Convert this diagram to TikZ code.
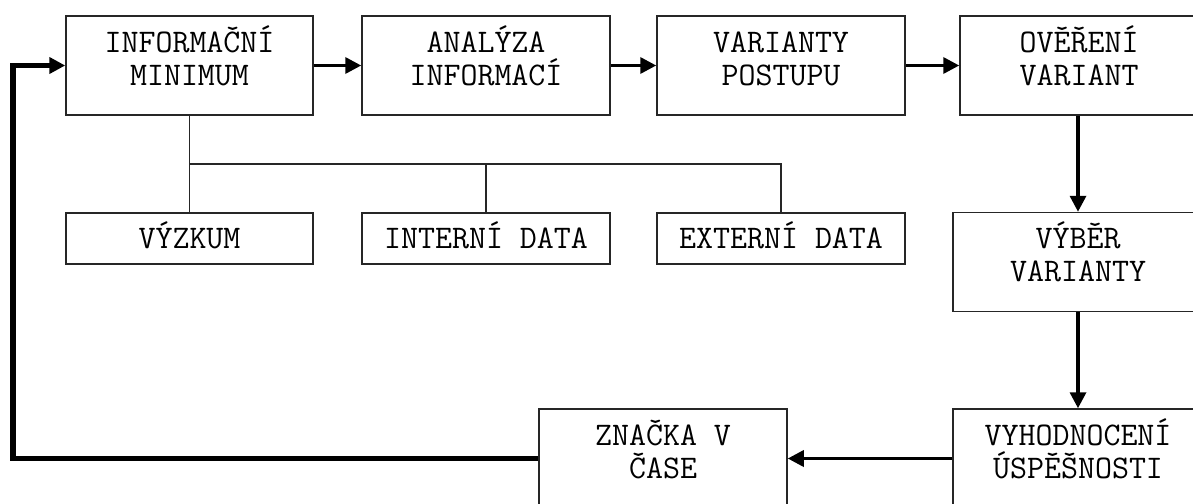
\documentclass[tikz,border=0pt]{standalone}
\usepackage{fontspec}
\usetikzlibrary{arrows.meta}
\begin{document}
\begin{tikzpicture}[x=1pt,y=-1pt,
  box/.style={draw=black!85, line width=1.5pt, rectangle, inner sep=2pt, align=center,
    font=\ttfamily\fontsize{33}{33}\selectfont},
  tall/.style={box, minimum height=99pt, text height=45pt, text depth=6pt},
  low/.style={box, minimum height=51pt, text height=19pt, text depth=0pt},
  branch/.style={draw=black!85, line width=1.8pt},
  tip/.style={-{Triangle[length=16pt,width=16pt]}},
  flow/.style={tip, line width=3.4pt},
  fbline/.style={tip, line width=5.5pt, line join=miter}
]
\useasboundingbox (0,0) rectangle (1193,503);
\clip (0,0) rectangle (1193,503);

\node[tall, minimum width=247pt] (im) at (189.5,65.5) {INFORMAČNÍ\\MINIMUM};
\node[tall, minimum width=248pt] (an) at (486,65.5) {ANALÝZA\\INFORMACÍ};
\node[tall, minimum width=248pt] (vp) at (781,65.5) {VARIANTY\\POSTUPU};
\node[tall, minimum width=238pt] (ov) at (1079,65.5) {OVĚŘENÍ\\VARIANT};
\node[tall, minimum width=250pt] (vv) at (1078,262) {VÝBĚR\\VARIANTY};
\node[tall, minimum width=250pt] (vy) at (1078,458.5) {VYHODNOCENÍ\\ÚSPĚŠNOSTI};
\node[tall, minimum width=248pt] (zn) at (663,458.5) {ZNAČKA V\\ČASE};
\node[low, minimum width=247pt] (vz) at (189.5,238.5) {VÝZKUM};
\node[low, minimum width=248pt] (in) at (486,238.5) {INTERNÍ DATA};
\node[low, minimum width=248pt] (ex) at (781,238.5) {EXTERNÍ DATA};

\coordinate (j) at (189.5,164);
\draw[branch] (im.south) -- (vz.north);
\draw[branch] (j) -| (ex.north);
\draw[branch] (in.north |- j) -- (in.north);

\draw[flow] (im) -- (an);
\draw[flow] (an) -- (vp);
\draw[flow] (vp) -- (ov);
\draw[flow] (vv.north |- ov.south) -- (vv.north);
\draw[flow] (vv) -- (vy);
\draw[flow] (vy) -- (zn);

\coordinate (lc) at (13,458.5);
\coordinate (uc) at (13,65.5);
\draw[fbline] (zn.west) -- (lc) -- (uc) -- (im.west);
\end{tikzpicture}
\end{document}
